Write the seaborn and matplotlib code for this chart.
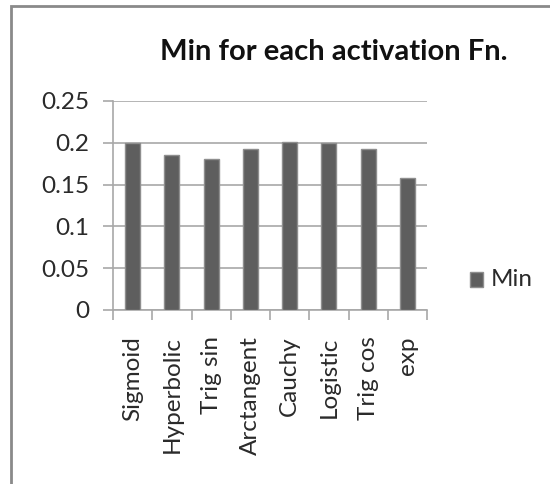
import matplotlib
matplotlib.use("Agg")
import matplotlib.pyplot as plt
import seaborn as sns
import pandas as pd
import numpy as np
from matplotlib.patches import Rectangle

functions = ["Sigmoid", "Hyperbolic", "Trig sin", "Arctangent", "Cauchy", "Logistic", "Trig cos", "exp"]
min_values = [0.200, 0.185, 0.181, 0.193, 0.201, 0.200, 0.193, 0.158]
y_ticks = [0, 0.05, 0.1, 0.15, 0.2, 0.25]
y_labels = ["0", "0.05", "0.1", "0.15", "0.2", "0.25"]

sns.set_theme(style="white")
plt.rcParams["font.family"] = ["Lato", "DejaVu Sans"]

df = pd.DataFrame({"Function": functions, "Min": min_values})

fig = plt.figure(figsize=(5.5, 4.84), dpi=100)
ax = fig.add_axes([113 / 550, 1 - 310 / 484, 314 / 550, 209 / 484])

sns.barplot(data=df, x="Function", y="Min", color="#5e5e5e", saturation=1,
            width=0.38, edgecolor="#8e8e8e", linewidth=1.0, ax=ax, zorder=3)

ax.set_ylim(0, 0.25)
ax.set_xlim(-0.5, len(functions) - 0.5)
ax.set_yticks(y_ticks)
ax.set_yticklabels(y_labels, fontsize=17.5, color="#2a2a2a")
ax.yaxis.grid(True, color="#b4b4b4", linewidth=1.4, zorder=0)
ax.set_axisbelow(True)
ax.tick_params(axis="y", length=7, width=1.2, color="#a8a8a8", pad=10, left=True)

ax.set_xticks(np.arange(len(functions)))
ax.set_xticklabels(functions, rotation=90, fontsize=17.5, color="#2a2a2a")
ax.set_xticks(np.arange(-0.5, len(functions)), minor=True)
ax.tick_params(axis="x", which="major", length=0, pad=19)
ax.tick_params(axis="x", which="minor", length=7, width=1.2, color="#a8a8a8", bottom=True)

ax.set_xlabel("")
ax.set_ylabel("")
for side in ["top", "right"]:
    ax.spines[side].set_visible(False)
for side in ["left", "bottom"]:
    ax.spines[side].set_color("#a8a8a8")
    ax.spines[side].set_linewidth(1.2)

fig.text(334 / 550, 1 - 52 / 484, "Min for each activation Fn.", ha="center", va="center",
         fontsize=21, fontweight="bold", color="#111111")

# legend
fig.patches.append(Rectangle((470 / 550, 1 - 287 / 484), 13 / 550, 15 / 484,
                             transform=fig.transFigure, facecolor="#5e5e5e",
                             edgecolor="#8e8e8e", linewidth=1.0))
fig.text(491 / 550, 1 - 280 / 484, "Min", ha="left", va="center", fontsize=17.5, color="#2a2a2a")

# chart frame
fig.patches.append(Rectangle((11 / 550, -0.1), 1.2, 1 - 6 / 484 + 0.1,
                             transform=fig.transFigure, facecolor="none",
                             edgecolor="#8a8a8a", linewidth=2.0))

fig.savefig("out.png", dpi=100, facecolor="white")
